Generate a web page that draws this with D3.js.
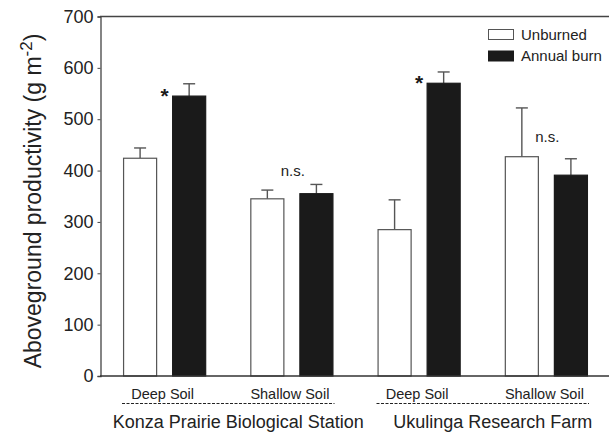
<!DOCTYPE html>
<html><head><meta charset="utf-8">
<script src="https://cdn.jsdelivr.net/npm/d3@7"></script>
<style>body{margin:0;background:#fff}svg text{font-family:"Liberation Sans",Arimo,Arial,Helvetica,sans-serif}</style>
</head><body><div id="chart"></div>
<script>
const groups = ["Konza Deep", "Konza Shallow", "Ukulinga Deep", "Ukulinga Shallow"];
const soilLabels = ["Deep Soil", "Shallow Soil", "Deep Soil", "Shallow Soil"];
const sites = ["Konza Prairie Biological Station", "Ukulinga Research Farm"];
const treatments = ["Unburned", "Annual burn"];
const unburned = [424, 345, 285, 427];
const unburnedSE = [20, 17, 58, 95];
const annualBurn = [545, 355, 570, 391];
const annualBurnSE = [24, 18, 22, 32];
const annotations = ["*", "n.s.", "*", "n.s."];
const annotationY = [550, 400, 575, 466];
const yTicks = [0, 100, 200, 300, 400, 500, 600, 700];

const FONT = "Liberation Sans, Arimo, Arial, Helvetica, sans-serif";
const W = 609, H = 434;
const svg = d3.select("#chart").append("svg").attr("width", W).attr("height", H).attr("font-family", FONT);

const x0 = d3.scaleBand().domain(groups).range([101, 610]);
const x1 = d3.scaleBand().domain(treatments).range([0, x0.bandwidth()]).paddingInner(0.306).paddingOuter(0.45);
const y = d3.scaleLinear().domain([0, 700]).range([376, 16.5]);

const data = groups.map((g, i) => ({
  g, i,
  bars: [
    {t: "Unburned", v: unburned[i], se: unburnedSE[i]},
    {t: "Annual burn", v: annualBurn[i], se: annualBurnSE[i]}
  ]
}));

const fill = {"Unburned": "#fff", "Annual burn": "#1a1a1a"};
const stroke = {"Unburned": "#555", "Annual burn": "#1a1a1a"};

const gg = svg.selectAll(".grp").data(data).join("g").attr("transform", d => `translate(${x0(d.g)},0)`);
gg.selectAll(".err").data(d => d.bars).join("g").each(function(b) {
  const cx = x1(b.t) + x1.bandwidth() / 2;
  const s = d3.select(this);
  s.append("line").attr("x1", cx).attr("x2", cx).attr("y1", y(b.v)).attr("y2", y(b.v + b.se)).attr("stroke", "#555").attr("stroke-width", 1.4);
  s.append("line").attr("x1", cx - 6).attr("x2", cx + 6).attr("y1", y(b.v + b.se)).attr("y2", y(b.v + b.se)).attr("stroke", "#555").attr("stroke-width", 1.4);
});
gg.selectAll("rect").data(d => d.bars).join("rect")
  .attr("x", b => x1(b.t) + 0.5).attr("width", x1.bandwidth() - 1)
  .attr("y", b => y(b.v)).attr("height", b => y(0) - y(b.v))
  .attr("fill", b => fill[b.t]).attr("stroke", b => stroke[b.t]).attr("stroke-width", 1.2);

data.forEach((d, i) => {
  const a = annotations[i];
  if (a === "*") {
    svg.append("text").attr("x", x0(d.g) + x1("Annual burn") - 7.5).attr("y", y(annotationY[i]) + 9)
      .attr("text-anchor", "middle").attr("font-size", 21).attr("font-weight", "bold").attr("fill", "#1a1a1a").text(a);
  } else {
    svg.append("text").attr("x", x0(d.g) + x0.bandwidth() / 2 + 1).attr("y", y(annotationY[i]) + 5)
      .attr("text-anchor", "middle").attr("font-size", 15).attr("fill", "#222").text(a);
  }
});

const yAxis = d3.axisLeft(y).tickValues(yTicks).tickSize(3).tickPadding(4);
const ya = svg.append("g").attr("transform", "translate(100.5,0)").call(yAxis).attr("font-family", FONT);
ya.select(".domain").attr("stroke", "#444").attr("stroke-width", 1.3);
ya.selectAll(".tick line").attr("stroke", "#444");
ya.selectAll(".tick text").attr("font-size", 18).attr("fill", "#222");

svg.append("line").attr("x1", 100).attr("x2", 609).attr("y1", y(0)).attr("y2", y(0)).attr("stroke", "#333").attr("stroke-width", 1.4);
svg.append("line").attr("x1", 100).attr("x2", 609).attr("y1", y(700)).attr("y2", y(700)).attr("stroke", "#444").attr("stroke-width", 1.3);

svg.selectAll(".soil").data(groups).join("text")
  .attr("x", (g, i) => x0(g) + x0.bandwidth() / 2 - 2).attr("y", 399)
  .attr("text-anchor", "middle").attr("font-size", 14.5).attr("fill", "#222").text((g, i) => soilLabels[i]);

sites.forEach((s, k) => {
  const gA = groups[k * 2], gB = groups[k * 2 + 1];
  const xa = x0(gA) + 21, xb = x0(gB) + x0.bandwidth() - 21;
  svg.append("line").attr("x1", xa).attr("x2", xb).attr("y1", 403.5).attr("y2", 403.5)
    .attr("stroke", "#222").attr("stroke-width", 1.2).attr("stroke-dasharray", "3,1.5");
  svg.append("text").attr("x", (xa + xb) / 2 + 10).attr("y", 427.5).attr("text-anchor", "middle")
    .attr("font-size", 18).attr("fill", "#222").text(s);
});

const yl = svg.append("text").attr("transform", "translate(41,201) rotate(-90)").attr("text-anchor", "middle")
  .attr("font-size", 23).attr("fill", "#222");
yl.append("tspan").text("Aboveground productivity (g m");
yl.append("tspan").attr("dy", -9).attr("font-size", 17).text("-2");
yl.append("tspan").attr("dy", 9).text(")");

treatments.forEach((t, i) => {
  svg.append("rect").attr("x", 488.5).attr("y", 29.5 + i * 21.5).attr("width", 25).attr("height", 10)
    .attr("fill", fill[t]).attr("stroke", stroke[t]).attr("stroke-width", 1);
  svg.append("text").attr("x", 521).attr("y", 39.5 + i * 21.5).attr("font-size", 15).attr("fill", "#222").text(t);
});
</script></body></html>
